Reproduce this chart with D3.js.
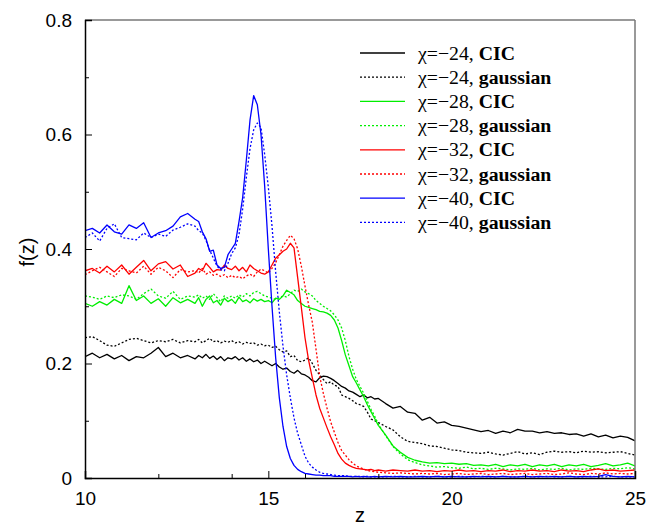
<!DOCTYPE html>
<html><head><meta charset="utf-8">
<script src="https://cdn.jsdelivr.net/npm/d3@7"></script>
<style>body{margin:0;background:#fff}svg{display:block}</style>
</head><body>
<svg id="chart" width="655" height="529"></svg>
<script>
// z sample positions (categories)
const zA = d3.range(15).map(i => +(10 + 0.2 * i).toFixed(1));   // 10 .. 12.8
const zB = d3.range(50).map(i => +(13 + 0.1 * i).toFixed(1));   // 13 .. 17.9
const zC = d3.range(36).map(i => +(18 + 0.2 * i).toFixed(1));   // 18 .. 25
const zs = zA.concat(zB, zC);

const k24c = [0.212,0.218,0.210,0.216,0.208,0.214,0.205,0.212,0.210,0.218,0.228,0.212,0.218,0.210,0.214,
0.208,0.214,0.210,0.216,0.209,0.213,0.207,0.212,0.205,0.210,
0.208,0.212,0.206,0.210,0.204,0.208,0.203,0.206,0.200,0.204,
0.200,0.196,0.200,0.194,0.190,0.192,0.186,0.183,0.188,0.182,
0.180,0.176,0.170,0.168,0.175,0.178,0.177,0.174,0.170,0.165,
0.160,0.157,0.152,0.150,0.146,0.142,0.145,0.140,0.142,0.138,
0.139,0.130,0.122,0.125,0.115,0.113,0.101,0.106,0.096,0.098,0.092,0.090,0.087,0.084,0.081,0.083,0.078,0.082,0.079,0.085,0.082,0.082,0.079,0.081,0.078,0.079,0.076,0.077,0.073,0.077,0.072,0.075,0.070,0.073,0.071,0.065];

const k24g = [0.245,0.247,0.240,0.232,0.230,0.236,0.242,0.244,0.240,0.236,0.240,0.238,0.242,0.236,0.240,
0.238,0.242,0.236,0.240,0.244,0.238,0.240,0.236,0.239,0.237,
0.240,0.236,0.238,0.234,0.237,0.235,0.236,0.232,0.234,0.231,
0.232,0.228,0.230,0.224,0.220,0.222,0.212,0.214,0.205,0.203,
0.206,0.210,0.200,0.188,0.180,0.172,0.165,0.168,0.162,0.160,
0.145,0.142,0.139,0.135,0.130,0.128,0.125,0.115,0.103,0.100,
0.097,0.090,0.084,0.072,0.064,0.062,0.060,0.056,0.055,0.052,0.049,0.048,0.045,0.044,0.043,0.045,0.042,0.040,0.043,0.046,0.042,0.044,0.041,0.045,0.047,0.045,0.046,0.044,0.047,0.045,0.046,0.044,0.045,0.046,0.043,0.040];

const k28c = [0.305,0.300,0.308,0.302,0.312,0.305,0.336,0.310,0.318,0.305,0.313,0.300,0.315,0.306,0.312,
0.305,0.315,0.300,0.312,0.318,0.306,0.310,0.302,0.314,0.308,
0.312,0.305,0.316,0.308,0.311,0.306,0.313,0.309,0.312,0.308,
0.310,0.306,0.314,0.312,0.318,0.328,0.324,0.320,0.310,0.305,
0.300,0.298,0.296,0.294,0.291,0.290,0.288,0.284,0.276,0.262,
0.240,0.215,0.196,0.177,0.166,0.154,0.142,0.128,0.116,0.104,
0.092,0.075,0.056,0.045,0.036,0.031,0.028,0.026,0.027,0.025,0.026,0.024,0.025,0.022,0.023,0.021,0.024,0.020,0.023,0.021,0.024,0.020,0.023,0.021,0.024,0.020,0.023,0.021,0.024,0.020,0.022,0.025,0.021,0.023,0.026,0.021];

const k28g = [0.318,0.316,0.312,0.318,0.315,0.320,0.318,0.312,0.322,0.330,0.318,0.314,0.326,0.312,0.318,
0.316,0.320,0.314,0.318,0.312,0.322,0.315,0.308,0.318,0.314,
0.318,0.314,0.320,0.316,0.322,0.318,0.324,0.326,0.322,0.318,
0.316,0.314,0.312,0.315,0.318,0.316,0.322,0.328,0.326,0.330,
0.325,0.322,0.318,0.310,0.305,0.300,0.296,0.292,0.285,0.276,
0.262,0.240,0.212,0.190,0.172,0.160,0.148,0.134,0.120,0.108,
0.094,0.074,0.055,0.042,0.032,0.027,0.023,0.021,0.019,0.020,0.018,0.017,0.019,0.016,0.017,0.015,0.017,0.016,0.014,0.016,0.015,0.017,0.014,0.016,0.015,0.017,0.014,0.016,0.015,0.017,0.016,0.015,0.017,0.016,0.018,0.016];

const k32c = [0.362,0.366,0.358,0.370,0.360,0.372,0.356,0.368,0.380,0.362,0.374,0.378,0.365,0.372,0.352,
0.358,0.366,0.362,0.375,0.368,0.360,0.364,0.363,0.372,0.366,
0.364,0.370,0.362,0.368,0.360,0.372,0.366,0.362,0.358,0.356,
0.360,0.372,0.384,0.390,0.396,0.400,0.410,0.402,0.350,0.298,
0.245,0.205,0.175,0.145,0.122,0.105,0.088,0.072,0.058,0.043,
0.033,0.026,0.022,0.019,0.017,0.016,0.015,0.014,0.015,0.013,
0.014,0.012,0.014,0.013,0.012,0.014,0.012,0.013,0.011,0.013,0.012,0.014,0.012,0.013,0.011,0.013,0.012,0.014,0.011,0.013,0.012,0.014,0.012,0.013,0.011,0.014,0.012,0.013,0.011,0.014,0.016,0.013,0.014,0.012,0.013,0.014];

const k32g = [0.355,0.362,0.368,0.360,0.352,0.366,0.362,0.358,0.370,0.356,0.368,0.362,0.350,0.364,0.360,
0.362,0.358,0.366,0.356,0.360,0.354,0.356,0.352,0.355,0.350,
0.354,0.350,0.352,0.348,0.353,0.356,0.352,0.360,0.365,0.362,
0.358,0.366,0.376,0.390,0.405,0.415,0.424,0.418,0.400,0.370,
0.335,0.302,0.272,0.225,0.178,0.148,0.122,0.098,0.080,0.062,
0.048,0.040,0.032,0.026,0.021,0.018,0.016,0.013,0.012,0.011,
0.010,0.009,0.008,0.009,0.008,0.007,0.008,0.007,0.008,0.006,0.007,0.008,0.006,0.007,0.008,0.006,0.007,0.008,0.006,0.007,0.008,0.006,0.007,0.008,0.006,0.007,0.009,0.007,0.006,0.008,0.007,0.009,0.007,0.008,0.007,0.008];

const k40c = [0.432,0.436,0.428,0.442,0.430,0.426,0.442,0.436,0.446,0.420,0.428,0.432,0.440,0.456,0.462,
0.452,0.448,0.430,0.418,0.396,0.398,0.372,0.366,0.368,0.390,
0.400,0.410,0.448,0.490,0.555,0.625,0.668,0.652,0.600,0.510,
0.400,0.300,0.210,0.140,0.090,0.055,0.034,0.022,0.015,0.011,
0.008,0.007,0.006,0.005,0.005,0.004,0.004,0.004,0.003,0.003,
0.003,0.003,0.003,0.002,0.003,0.002,0.003,0.002,0.002,0.003,
0.002,0.003,0.002,0.003,0.002,0.002,0.003,0.002,0.003,0.002,0.003,0.002,0.002,0.003,0.002,0.003,0.002,0.003,0.002,0.002,0.003,0.002,0.003,0.002,0.003,0.002,0.003,0.002,0.003,0.002,0.003,0.006,0.003,0.002,0.003,0.002];

const k40g = [0.420,0.428,0.414,0.436,0.444,0.420,0.418,0.416,0.428,0.420,0.426,0.422,0.433,0.438,0.444,
0.440,0.432,0.428,0.415,0.398,0.384,0.370,0.364,0.362,0.375,
0.392,0.402,0.425,0.470,0.525,0.575,0.608,0.620,0.612,0.565,
0.508,0.440,0.360,0.290,0.230,0.180,0.140,0.105,0.078,0.058,
0.038,0.026,0.019,0.014,0.010,0.008,0.007,0.006,0.005,0.004,
0.004,0.004,0.003,0.003,0.003,0.003,0.002,0.003,0.002,0.002,
0.002,0.002,0.003,0.002,0.002,0.003,0.002,0.002,0.003,0.002,0.002,0.003,0.002,0.002,0.003,0.002,0.002,0.003,0.002,0.002,0.003,0.002,0.002,0.003,0.002,0.002,0.003,0.002,0.002,0.003,0.002,0.002,0.003,0.002,0.002,0.002];

const xTicksMajor = [10, 15, 20, 25];
const xTicksMinor = [12, 14, 16, 18, 22, 24];
const yTicksMajor = [0, 0.2, 0.4, 0.6, 0.8];
const yTicksMinor = [0.1, 0.3, 0.5, 0.7];

const seriesNames = ["χ=−24", "χ=−24", "χ=−28", "χ=−28", "χ=−32", "χ=−32", "χ=−40", "χ=−40"];
const seriesKind  = ["CIC", "gaussian", "CIC", "gaussian", "CIC", "gaussian", "CIC", "gaussian"];
const seriesData  = [k24c, k24g, k28c, k28g, k32c, k32g, k40c, k40g];
const colors = ["#000000", "#000000", "#00ee00", "#00ee00", "#ff0000", "#ff0000", "#0000ff", "#0000ff"];

const svg = d3.select("#chart");
const L = 85, R = 635, T = 20, B = 478;
const x = d3.scaleLinear().domain([10, 25]).range([L, R]);
const y = d3.scaleLinear().domain([0, 0.8]).range([B, T]);

const sansFont = "'Liberation Sans', Arial, sans-serif";
const serifFont = "'Liberation Serif', 'Times New Roman', serif";

// clip
svg.append("clipPath").attr("id", "clip").append("rect")
  .attr("x", L).attr("y", T).attr("width", R - L).attr("height", B - T);

// lines
const line = d3.line().x((d, i) => x(zs[i])).y(d => y(d));
const g = svg.append("g").attr("clip-path", "url(#clip)");
seriesData.forEach((arr, k) => {
  g.append("path").datum(arr)
    .attr("d", line)
    .attr("fill", "none")
    .attr("stroke", colors[k])
    .attr("stroke-width", 1.3)
    .attr("stroke-dasharray", seriesKind[k] === "gaussian" ? "2,2" : null)
    .attr("stroke-linejoin", "round");
});

// frame
svg.append("line").attr("x1", L).attr("x2", R).attr("y1", T).attr("y2", T).attr("stroke", "#777").attr("stroke-width", 1.5);
svg.append("line").attr("x1", R).attr("x2", R).attr("y1", T).attr("y2", B).attr("stroke", "#777").attr("stroke-width", 1.5);

// axes
svg.append("g").attr("transform", `translate(0,${B})`)
  .call(d3.axisBottom(x).tickValues(xTicksMajor).tickSize(-7).tickPadding(14).tickFormat(d3.format("d")));
svg.append("g").attr("transform", `translate(0,${B})`)
  .call(d3.axisBottom(x).tickValues(xTicksMinor).tickSize(-4).tickFormat(""))
  .call(s => s.select(".domain").remove());
svg.append("g").attr("transform", `translate(${L},0)`)
  .call(d3.axisLeft(y).tickValues(yTicksMajor).tickSize(-7).tickPadding(13).tickFormat(d => d === 0 ? "0" : d3.format(".1f")(d)));
svg.append("g").attr("transform", `translate(${L},0)`)
  .call(d3.axisLeft(y).tickValues(yTicksMinor).tickSize(-4).tickFormat(""))
  .call(s => s.select(".domain").remove());

svg.selectAll(".domain").attr("stroke", "#000").attr("stroke-width", 1.5);
svg.selectAll(".tick line").attr("stroke", "#000").attr("stroke-width", 1);
svg.selectAll(".tick text").attr("font-family", sansFont).attr("font-size", 19).attr("fill", "#000");

// axis titles
svg.append("text").attr("x", 360).attr("y", 522).attr("text-anchor", "middle")
  .attr("font-family", sansFont).attr("font-size", 20).text("z");
svg.append("text").attr("transform", "translate(34,252) rotate(-90)").attr("text-anchor", "middle")
  .attr("font-family", sansFont).attr("font-size", 20).text("f(z)");

// legend
const lg = svg.append("g");
seriesData.forEach((arr, k) => {
  const yy = 53 + k * 24.2;
  lg.append("line").attr("x1", 360).attr("x2", 405).attr("y1", yy).attr("y2", yy)
    .attr("stroke", colors[k]).attr("stroke-width", 1.3)
    .attr("stroke-dasharray", seriesKind[k] === "gaussian" ? "2,2" : null);
  const t = lg.append("text").attr("x", 418).attr("y", yy + 6.5)
    .attr("font-family", serifFont).attr("font-size", 19.8).attr("fill", "#000");
  t.append("tspan").text(seriesNames[k] + ", ");
  t.append("tspan").attr("font-weight", "bold").text(seriesKind[k]);
});
</script>
</body></html>
